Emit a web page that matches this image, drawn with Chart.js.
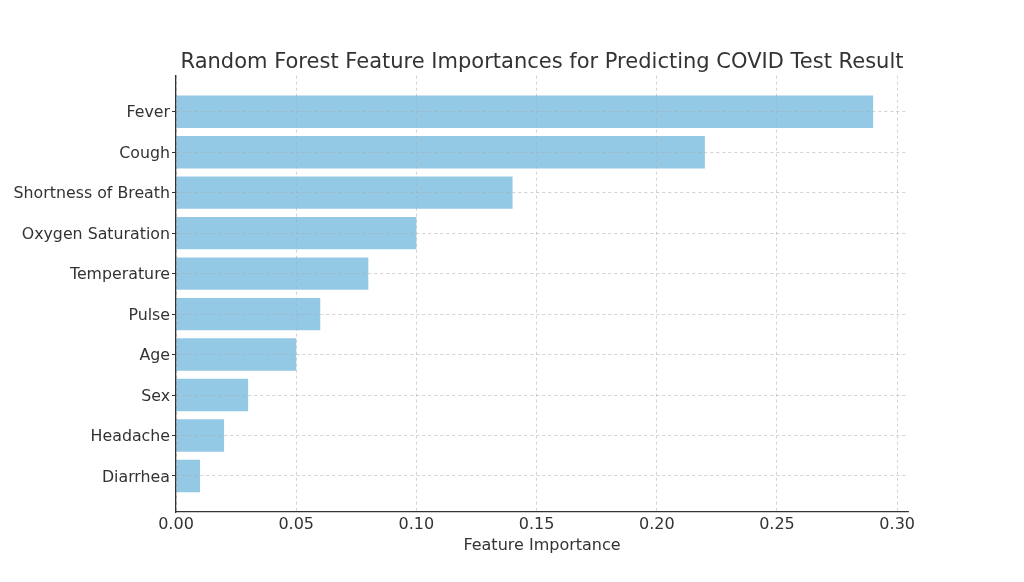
<!DOCTYPE html>
<html>
<head>
<meta charset="utf-8">
<script src="https://cdn.jsdelivr.net/npm/chart.js@4/dist/chart.umd.min.js"></script>
<style>
  html, body { margin: 0; padding: 0; background: #ffffff; }
  #wrap { width: 1024px; height: 582px; position: relative; }
</style>
</head>
<body>
<div id="wrap"><canvas id="c" width="1024" height="582"></canvas></div>
<script>
const categories = ["Fever", "Cough", "Shortness of Breath", "Oxygen Saturation", "Temperature", "Pulse", "Age", "Sex", "Headache", "Diarrhea"];
const importances = [0.29, 0.22, 0.14, 0.10, 0.08, 0.06, 0.05, 0.03, 0.02, 0.01];
const xTickValues = [0.00, 0.05, 0.10, 0.15, 0.20, 0.25, 0.30];
const titleText = "Random Forest Feature Importances for Predicting COVID Test Result";
const xAxisLabel = "Feature Importance";

const FONT = "'DejaVu Sans', sans-serif";
const TEXT = "#333333";

const points = categories.map((c, i) => ({ x: importances[i], y: i }));

new Chart(document.getElementById('c'), {
  type: 'bar',
  data: {
    datasets: [{
      data: points,
      backgroundColor: 'rgb(148,201,230)',
      borderWidth: 0,
      barPercentage: 0.8,
      categoryPercentage: 1.0
    }]
  },
  options: {
    indexAxis: 'y',
    responsive: false,
    animation: false,
    devicePixelRatio: 1,
    layout: { padding: { left: 0, right: 116, top: 0, bottom: 0 } },
    plugins: {
      legend: { display: false },
      tooltip: { enabled: false },
      title: {
        display: true,
        text: titleText,
        fullSize: false,
        color: TEXT,
        font: { family: FONT, size: 21, weight: 'normal' },
        padding: { top: 49.5, bottom: 1 }
      }
    },
    scales: {
      x: {
        type: 'linear',
        position: 'bottom',
        min: 0,
        max: 0.3045,
        afterBuildTicks: (s) => { s.ticks = xTickValues.map(v => ({ value: v })); },
        afterFit: (s) => { s.height = 70; },
        ticks: {
          color: TEXT,
          font: { family: FONT, size: 16 },
          padding: 3,
          callback: (v) => Number(v).toFixed(2)
        },
        grid: {
          z: 1,
          color: 'rgba(170,170,170,0.65)',
          lineWidth: 0.8,
          drawTicks: false
        },
        border: { display: true, z: 2, color: '#333333', width: 1.3, dash: [3, 3] },
        title: {
          display: true,
          text: xAxisLabel,
          color: TEXT,
          font: { family: FONT, size: 16 },
          padding: { top: 0, bottom: 27 }
        }
      },
      y: {
        type: 'linear',
        position: 'left',
        min: -0.89,
        max: 9.89,
        reverse: true,
        offset: false,
        afterBuildTicks: (s) => { s.ticks = categories.map((c, i) => ({ value: i })); },
        afterFit: (s) => { s.width = 176; },
        ticks: {
          color: TEXT,
          font: { family: FONT, size: 15.8 },
          padding: 2,
          labelOffset: 1.5,
          autoSkip: false,
          callback: (v) => categories[v]
        },
        grid: {
          z: 1,
          offset: false,
          color: 'rgba(170,170,170,0.65)',
          lineWidth: 0.8,
          drawTicks: true,
          tickLength: 4,
          tickColor: '#333333',
          tickWidth: 1,
          tickBorderDash: []
        },
        border: { display: true, z: 2, color: '#333333', width: 1.3, dash: [3, 3] }
      }
    }
  }
});
</script>
</body>
</html>
